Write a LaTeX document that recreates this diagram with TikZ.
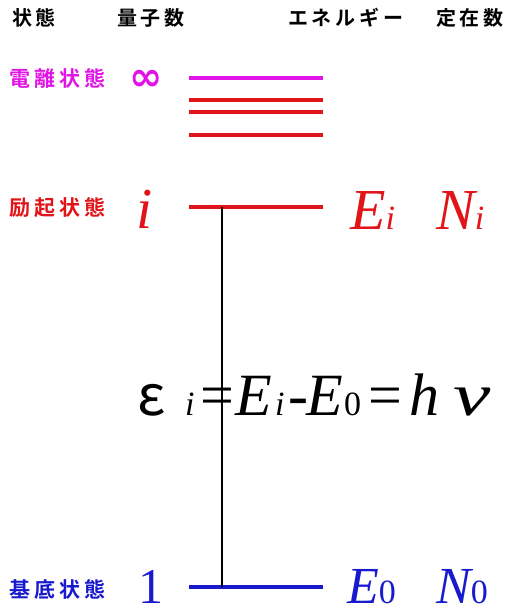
\documentclass[tikz,border=0pt]{standalone}
\usepackage{graphicx}
\usepackage{fontspec}
\setmainfont{Liberation Serif}
\newfontfamily\jpfont[LetterSpace=19,BoldFont={Noto Sans CJK JP Bold}]{Noto Sans CJK JP}
\newfontfamily\greekfont{Noto Sans CJK JP}
\newfontfamily\symfont{DejaVu Sans}

\definecolor{ionmag}{RGB}{225,20,230}
\definecolor{excred}{RGB}{225,20,25}
\definecolor{gndblue}{RGB}{25,25,205}

\newcommand{\sz}[1]{\fontsize{#1}{#1}\selectfont}
\newcommand{\lowsub}[1]{{\sz{34}#1}}
\newcommand{\fcell}[2]{\makebox[#1pt][l]{#2}}

\tikzset{
  head/.style={font=\jpfont\bfseries\sz{20}, anchor=base west, inner sep=0pt},
  statejp/.style={font=\jpfont\bfseries\sz{21}, anchor=west, inner sep=0pt},
  bigsym/.style={font=\sz{58}, anchor=base west, inner sep=0pt},
  lowsym/.style={font=\sz{52}, anchor=base west, inner sep=0pt, text depth=0pt},
  level/.style={line width=3.4pt},
}

\begin{document}
\begin{tikzpicture}[x=1pt, y=-1pt]
  \useasboundingbox (0,0) rectangle (510,615);

  % Column heads
  \node[head] (hstate)  at (12,26)  {状態};
  \node[head] (hquant)  at (117,26) {量子数};
  \node[head] (henergy) at (288,26) {エネルギー};
  \node[head] (hpop)    at (436,26) {定在数};

  % Level ends
  \coordinate (ion-l) at (189,78);  \coordinate (ion-r) at (323,78);
  \coordinate (r1-l)  at (189,100); \coordinate (r1-r)  at (323,100);
  \coordinate (r2-l)  at (189,112); \coordinate (r2-r)  at (323,112);
  \coordinate (r3-l)  at (189,135); \coordinate (r3-r)  at (323,135);
  \coordinate (exc-l) at (189,207); \coordinate (exc-r) at (323,207);
  \coordinate (gnd-l) at (189,587); \coordinate (gnd-r) at (323,587);
  \coordinate (trans-top) at (222,207);
  \coordinate (trans-bot) at (222,587);

  % Levels
  \draw[level, ionmag] (ion-l) -- (ion-r);
  \draw[level, excred] (r1-l) -- (r1-r);
  \draw[level, excred] (r2-l) -- (r2-r);
  \draw[level, excred] (r3-l) -- (r3-r);
  \draw[level, excred] (exc-l) -- (exc-r);
  \draw[level, gndblue] (gnd-l) -- (gnd-r);
  \draw[line width=2.6pt] (trans-top) -- (trans-bot);

  % Ionised state
  \node[statejp, ionmag] (sion) at (9,78) {電離状態};
  \node[font=\symfont\bfseries\sz{40}, text=ionmag, anchor=base west, inner sep=0pt] (qion) at (129,91) {∞};

  % Excited state
  \node[statejp, excred] (sexc) at (9,208) {励起状態};
  \node[bigsym, excred] (qexc) at (136,228) {\itshape i};
  \node[bigsym, excred] (eexc) at (350,229) {\itshape E\lowsub{i}};
  \node[bigsym, excred] (nexc) at (436,229) {\itshape N\lowsub{i}};

  % Ground state
  \node[statejp, gndblue] (sgnd) at (9,589) {基底状態};
  \node[lowsym, gndblue, font=\sz{50}] (qgnd) at (138,603) {1};
  \node[lowsym, gndblue] (egnd) at (347,603) {\itshape E\lowsub{\upshape 0}};
  \node[lowsym, gndblue] (ngnd) at (436,603) {\itshape N\lowsub{\upshape 0}};

  % Transition energy
  \node[font=\sz{60}, anchor=base west, inner sep=0pt] (eps) at (137,415)
    {\fcell{48}{\greekfont\sz{56}ε}\fcell{15}{\lowsub{\itshape i}}\fcell{35}{=}%
     \fcell{40}{\itshape E}\fcell{13}{\lowsub{\itshape i}}\fcell{18}{-}%
     \fcell{38}{\itshape E}\fcell{24}{\lowsub{0}}\fcell{41}{=}%
     \fcell{44}{\itshape h}\fcell{40}{\scalebox{1.4}[1]{\itshape ν}}};
\end{tikzpicture}
\end{document}
